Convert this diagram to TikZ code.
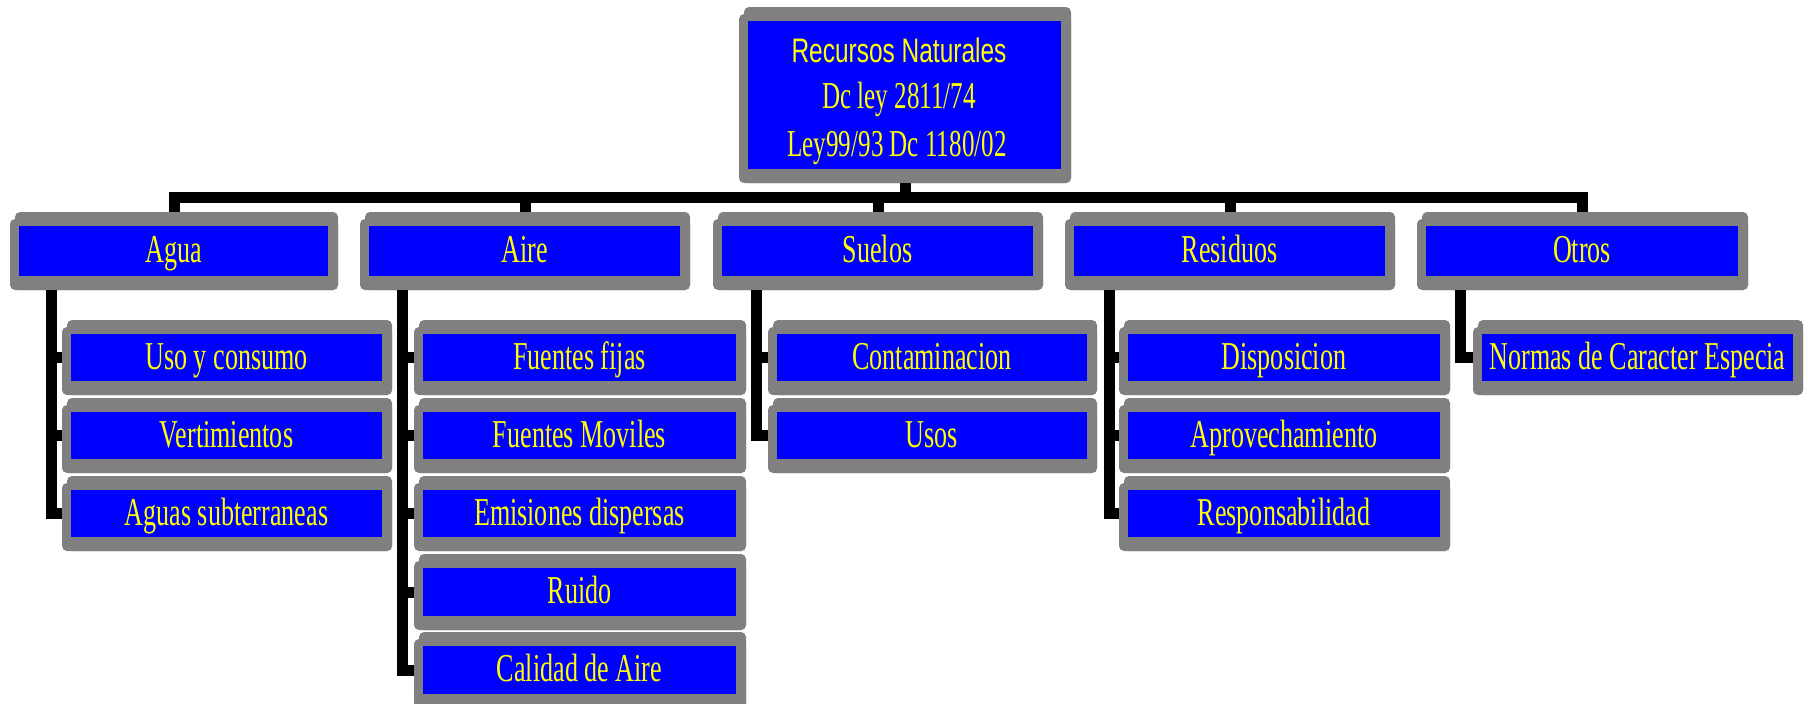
\documentclass[tikz,border=0pt]{standalone}
\usepackage{fontspec}
\newfontfamily\boxfont[FakeStretch=0.66]{Liberation Serif}
\newfontfamily\headfont[FakeStretch=0.72]{Liberation Sans}
\definecolor{orgblue}{HTML}{0000FF}
\definecolor{orgyellow}{HTML}{FFFF00}
\definecolor{framegray}{HTML}{808080}

% Box with a grey frame (stepped top-left corner) and a blue label panel.
% #1 name, #2 x0, #3 y0, #4 x1, #5 y1 (pixel units, y downwards), #6 text
\newcommand{\orgbox}[6]{%
  \fill[framegray, rounded corners=5pt] ({#2+5},#3) rectangle (#4,#5);
  \fill[framegray, rounded corners=5pt] (#2,{#3+7}) rectangle (#4,#5);
  \node[framebox, minimum width={#4-#2}, minimum height={#5-#3}]
    (#1) at ({(#2+#4)/2},{(#3+#5)/2}) {};
  \node[labelbox, minimum width={#4-#2-19}, minimum height={#5-#3-28}]
    (#1-t) at ({(#2+#4)/2-0.5},{(#3+#5)/2}) {#6};
}

\tikzset{
  framebox/.style={rectangle, inner sep=0pt, draw=none},
  labelbox/.style={rectangle, inner sep=0pt, fill=orgblue, text=orgyellow,
    font=\boxfont\fontsize{39.5}{47}\selectfont, text height=23pt, text depth=0pt},
  headline/.style={inner sep=0pt, text=orgyellow, anchor=base},
  conn/.style={draw=black, line width=11pt, line join=miter},
}

\begin{document}
\begin{tikzpicture}[x=1pt, y=-1pt]
\useasboundingbox (0,0) rectangle (1808,704);
\clip (0,0) rectangle (1808,704);

% root
\orgbox{top}{739}{7}{1071}{183}{}
\node[headline, font=\headfont\fontsize{34}{40}\selectfont] (top-l1) at (899,62) {Recursos Naturales};
\node[headline, font=\boxfont\fontsize{38}{47}\selectfont] (top-l2) at (899,108) {Dc ley 2811/74};
\node[headline, font=\boxfont\fontsize{38}{47}\selectfont] (top-l3) at (897,156) {Ley99/93 Dc 1180/02};

% first level
\orgbox{agua}{10}{212}{338}{290}{Agua}
\orgbox{aire}{360}{212}{690}{290}{Aire}
\orgbox{suelos}{713}{212}{1043}{290}{Suelos}
\orgbox{residuos}{1065}{212}{1395}{290}{Residuos}
\orgbox{otros}{1417}{212}{1748}{290}{Otros}

% second level
\orgbox{uso}{62}{320}{392}{395}{Uso y consumo}
\orgbox{vert}{62}{398}{392}{473}{Vertimientos}
\orgbox{subt}{62}{476}{392}{551}{Aguas subterraneas}

\orgbox{fijas}{414}{320}{746}{395}{Fuentes fijas}
\orgbox{moviles}{414}{398}{746}{473}{Fuentes Moviles}
\orgbox{emis}{414}{476}{746}{551}{Emisiones dispersas}
\orgbox{ruido}{414}{554}{746}{630}{Ruido}
\orgbox{calidad}{414}{632}{746}{708}{Calidad de Aire}

\orgbox{contam}{768}{320}{1097}{395}{Contaminacion}
\orgbox{usos}{768}{398}{1097}{473}{Usos}

\orgbox{dispo}{1119}{320}{1450}{395}{Disposicion}
\orgbox{aprov}{1119}{398}{1450}{473}{Aprovechamiento}
\orgbox{respon}{1119}{476}{1450}{551}{Responsabilidad}

\orgbox{normas}{1473}{320}{1803}{395}{Normas de Caracter Especia}

% connectors: root to first level
\foreach \n in {agua,aire,suelos,residuos,otros}
  \draw[conn] (top.south) -- ++(0,14) -| (\n.north);

% connectors: first level to second level
\foreach \c in {uso,vert,subt}
  \draw[conn] ([xshift=42pt]agua.south west) |- (\c.west);
\foreach \c in {fijas,moviles,emis,ruido,calidad}
  \draw[conn] ([xshift=43pt]aire.south west) |- (\c.west);
\foreach \c in {contam,usos}
  \draw[conn] ([xshift=44pt]suelos.south west) |- (\c.west);
\foreach \c in {dispo,aprov,respon}
  \draw[conn] ([xshift=45pt]residuos.south west) |- (\c.west);
\draw[conn] ([xshift=44pt]otros.south west) |- (normas.west);
\end{tikzpicture}
\end{document}
